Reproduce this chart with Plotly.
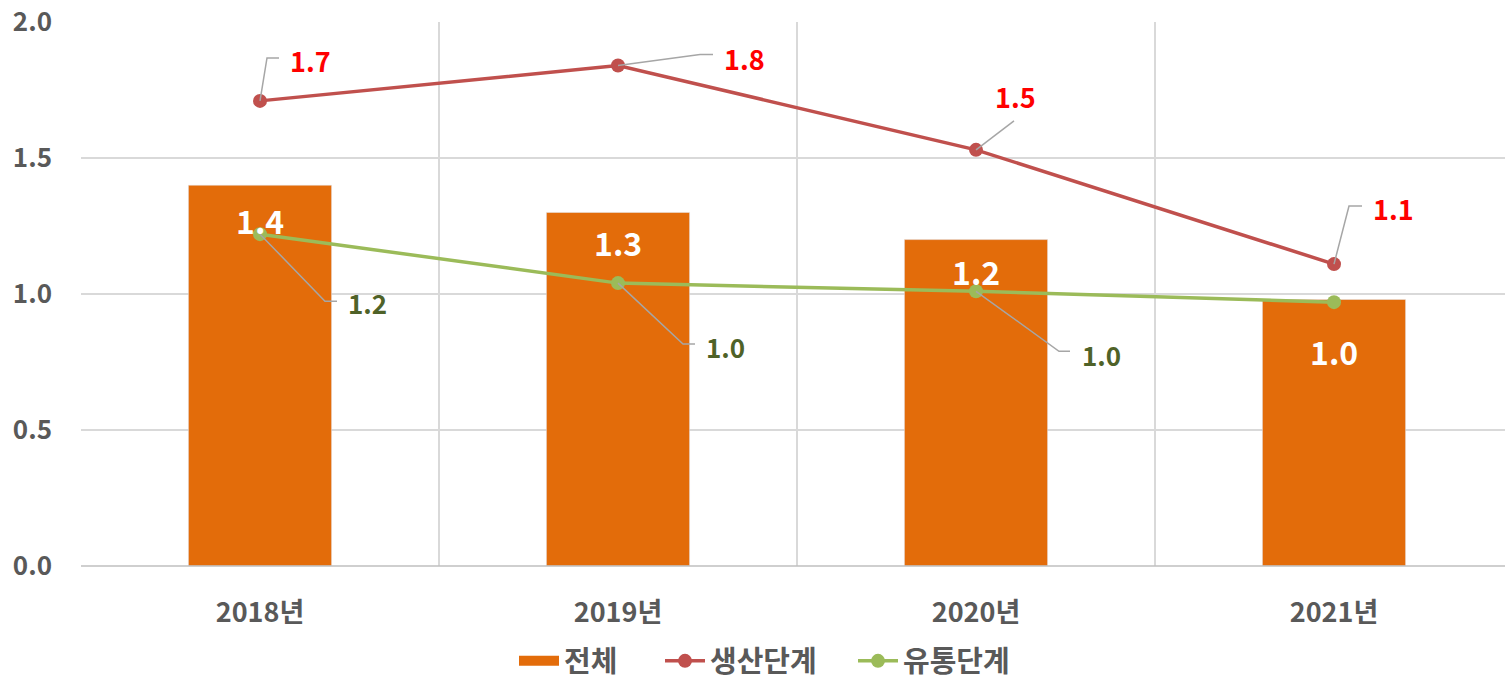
import plotly.graph_objects as go

# ---- data ----
categories = ["2018년", "2019년", "2020년", "2021년"]
total = [1.40, 1.30, 1.20, 0.98]          # 전체 (bars)
production = [1.71, 1.84, 1.53, 1.11]     # 생산단계
distribution = [1.22, 1.04, 1.01, 0.97]   # 유통단계
total_labels = ["1.4", "1.3", "1.2", "1.0"]
production_labels = ["1.7", "1.8", "1.5", "1.1"]
distribution_labels = ["1.2", "1.0", "1.0", None]

# ---- styles ----
FONT = "Noto Sans CJK KR"
ORANGE = "#E36C0A"
RED = "#C0504D"
GREEN = "#9BBB59"
GRID = "#D9D9D9"
TICK = "#595959"
LEADER = "#A6A6A6"

x = list(range(len(categories)))

fig = go.Figure()
fig.add_trace(go.Bar(x=x, y=total, name="전체", marker_color=ORANGE,
                     width=0.4, showlegend=False, hoverinfo="skip"))
# legend proxy for the bar series (wide rectangle)
fig.add_trace(go.Scatter(x=[None], y=[None], mode="lines", name="전체", legend="legend",
                         line=dict(color=ORANGE, width=15)))
fig.add_trace(go.Scatter(x=x, y=production, name="생산단계", mode="lines+markers",
                         legend="legend2",
                         line=dict(color=RED, width=3.5), marker=dict(size=14, color=RED)))
fig.add_trace(go.Scatter(x=x, y=distribution, name="유통단계", mode="lines+markers",
                         legend="legend3",
                         line=dict(color=GREEN, width=3.5), marker=dict(size=14, color=GREEN)))

# bar labels (white, inside)
bar_label_shift = [-35, -30, -31, -52]
for i, (v, t) in enumerate(zip(total, total_labels)):
    fig.add_annotation(x=x[i], y=v, text=f"<b>{t}</b>", showarrow=False,
                       yshift=bar_label_shift[i], xanchor="center", yanchor="middle",
                       font=dict(family=FONT, size=32, color="white"))

# leader line paths (pixels relative to point, y up) and label offsets
prod_paths = ["M0,0 L7,43 L19,43", "M0,0 L82,11 L95,11", "M0,0 L38,29", "M0,0 L15,58 L28,58"]
prod_label_off = [(28, 40, "left"), (104, 7, "left"), (39, 53, "center"), (37, 56, "left")]
dist_paths = ["M0,0 L65,-67 L77,-67", "M0,0 L65,-61 L77,-61", "M0,0 L83,-60 L94,-60", None]
dist_label_off = [(86, -68, "left"), (86, -63, "left"), (104, -63, "left"), None]

for i in x:
    fig.add_shape(type="path", xref="x", yref="y", xsizemode="pixel", ysizemode="pixel",
                  xanchor=x[i], yanchor=production[i], path=prod_paths[i],
                  line=dict(color=LEADER, width=1.5))
    dx, dy, anc = prod_label_off[i]
    fig.add_annotation(x=x[i], y=production[i], text=f"<b>{production_labels[i]}</b>",
                       showarrow=False, xshift=dx, yshift=dy, xanchor=anc, yanchor="middle",
                       font=dict(family=FONT, size=27, color="#FF0000"))
    if distribution_labels[i] is not None:
        fig.add_shape(type="path", xref="x", yref="y", xsizemode="pixel", ysizemode="pixel",
                      xanchor=x[i], yanchor=distribution[i], path=dist_paths[i],
                      line=dict(color=LEADER, width=1.5))
        dx, dy, anc = dist_label_off[i]
        fig.add_annotation(x=x[i], y=distribution[i], text=f"<b>{distribution_labels[i]}</b>",
                           showarrow=False, xshift=dx, yshift=dy, xanchor=anc, yanchor="middle",
                           font=dict(family=FONT, size=26, color="#4F6228"))


def legend_box(left_px):
    return dict(orientation="h", xref="container", x=left_px / 1505, xanchor="left",
                yref="container", y=(681 - 661) / 681, yanchor="middle",
                font=dict(family=FONT, size=29, color=TICK, weight="bold"),
                itemwidth=40, bgcolor="rgba(0,0,0,0)")


fig.update_layout(
    width=1505, height=681,
    margin=dict(l=81, r=0, t=22, b=115, autoexpand=False),
    paper_bgcolor="white", plot_bgcolor="white",
    font=dict(family=FONT, color=TICK),
    barmode="overlay",
    legend=legend_box(514),
    legend2=legend_box(660),
    legend3=legend_box(853),
    xaxis=dict(range=[-0.5, -0.5 + 1424 / 358], tickvals=x, ticktext=categories,
               showgrid=False, zeroline=False, showline=False, ticks="", automargin=False,
               tickfont=dict(family=FONT, size=27, color=TICK, weight="bold"),
               ticklabelstandoff=28,
               minor=dict(tickvals=[-0.5, 0.5, 1.5, 2.5], showgrid=True, gridcolor=GRID,
                          gridwidth=1.5, ticks="")),
    yaxis=dict(range=[0, 2], dtick=0.5, tickformat=".1f", showgrid=True, gridcolor=GRID,
               gridwidth=1.5, zeroline=False, showline=False, ticks="", automargin=False,
               tickfont=dict(family=FONT, size=26, color=TICK, weight="bold"),
               ticklabelstandoff=28),
)
# bottom axis line
fig.add_shape(type="line", xref="paper", yref="paper", x0=0, x1=1, y0=0, y1=0,
              line=dict(color="#BFBFBF", width=1.5), layer="above")

fig.write_html("out.html", config={"displayModeBar": False},
               post_script="document.body.style.margin='0';")
